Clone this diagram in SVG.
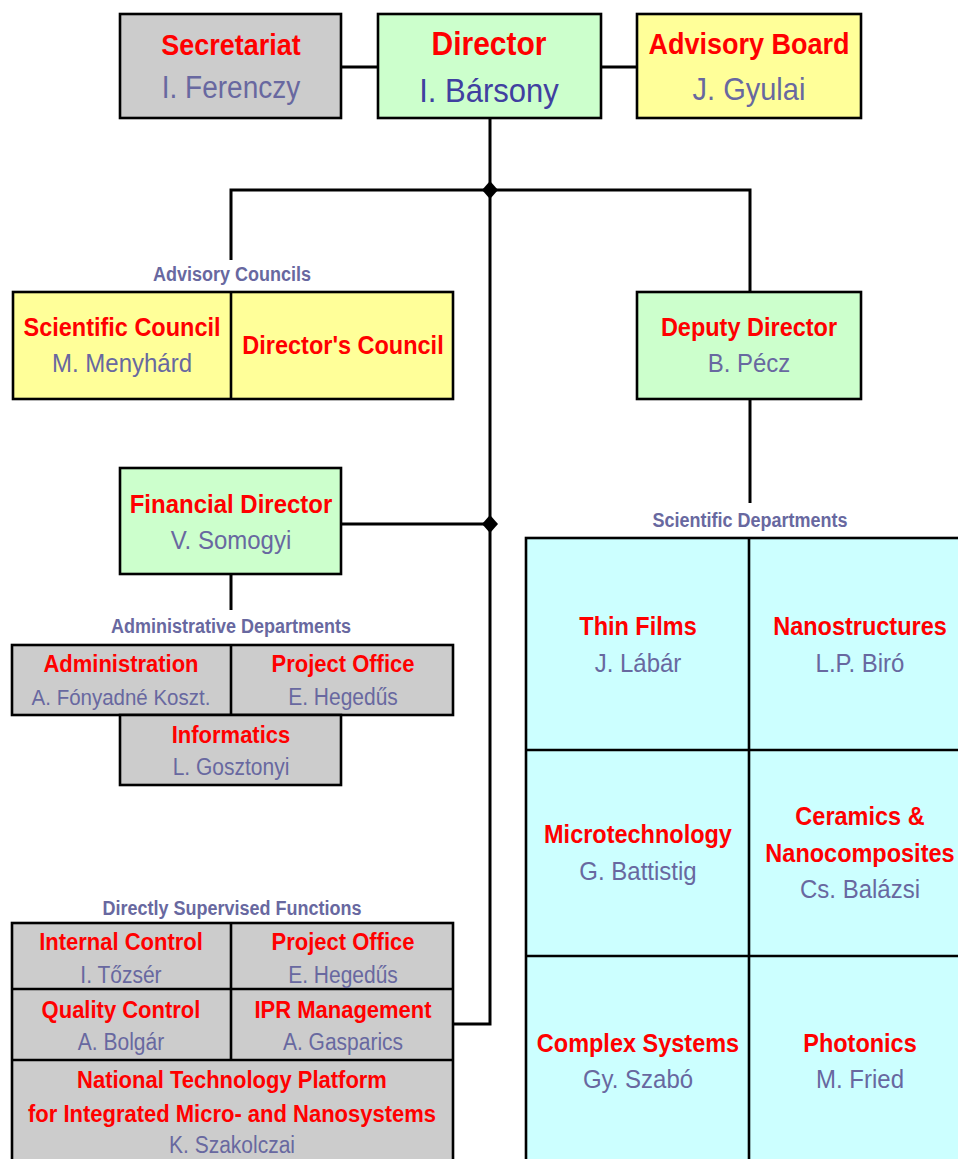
<svg xmlns="http://www.w3.org/2000/svg" width="958" height="1159" viewBox="0 0 958 1159">
<style>
text{font-family:"Liberation Sans",Arial,sans-serif;text-anchor:middle;transform-box:fill-box;transform-origin:50% 80%;transform:scaleY(1.1)}
.t{font-weight:bold;fill:#ff0000}
.n{fill:#6868a0}
.lbl{font-weight:bold;fill:#6868a0;font-size:18px}
.box{stroke:#000;stroke-width:2.6}
.gray{fill:#cccccc}.green{fill:#ccffcc}.yellow{fill:#ffff99}.cyan{fill:#ccffff}
.c{fill:none;stroke:#000;stroke-width:3}
.dot{fill:#000}
</style>
<rect width="958" height="1159" fill="#fff"/>
<g id="connectors">
<line class="c" x1="341" y1="67" x2="378" y2="67"/>
<line class="c" x1="601" y1="67" x2="637" y2="67"/>
<polyline class="c" points="490,118 490,1024 453,1024"/>
<polyline class="c" points="231,260 231,190 750,190 750,292"/>
<line class="c" x1="750" y1="399" x2="750" y2="503"/>
<line class="c" x1="341" y1="524" x2="490" y2="524"/>
<line class="c" x1="231" y1="574" x2="231" y2="610"/>
<polygon class="dot" points="490,181 498,190 490,199 482,190"/>
<polygon class="dot" points="490,515 498,524 490,533 482,524"/>
</g>
<g id="secretariat">
<rect class="box gray" x="120" y="14" width="221" height="104"/>
<text class="t" x="231" y="55" font-size="27">Secretariat</text>
<text class="n" x="231" y="98" font-size="28">I. Ferenczy</text>
</g>
<g id="director">
<rect class="box green" x="378" y="14" width="223" height="104"/>
<text class="t" x="489" y="55" font-size="30">Director</text>
<text x="489" y="102" font-size="31" fill="#4040a0">I. Bársony</text>
</g>
<g id="advisory-board">
<rect class="box yellow" x="637" y="14" width="224" height="104"/>
<text class="t" x="749" y="54" font-size="27">Advisory Board</text>
<text class="n" x="749" y="100" font-size="29">J. Gyulai</text>
</g>
<g id="advisory-councils">
<text class="lbl" x="232" y="281">Advisory Councils</text>
<rect class="box yellow" x="13" y="292" width="440" height="107"/>
<line class="box" x1="231" y1="292" x2="231" y2="399"/>
<text class="t" x="122" y="336" font-size="23.5">Scientific Council</text>
<text class="n" x="122" y="372" font-size="24">M. Menyhárd</text>
<text class="t" x="343" y="354" font-size="23.5">Director's Council</text>
</g>
<g id="deputy-director">
<rect class="box green" x="637" y="292" width="224" height="107"/>
<text class="t" x="749" y="336" font-size="23.5">Deputy Director</text>
<text class="n" x="749" y="372" font-size="24">B. Pécz</text>
</g>
<g id="financial-director">
<rect class="box green" x="120" y="468" width="221" height="106"/>
<text class="t" x="231" y="513" font-size="24">Financial Director</text>
<text class="n" x="231" y="549" font-size="24">V. Somogyi</text>
</g>
<g id="administrative-departments">
<text class="lbl" x="231" y="633">Administrative Departments</text>
<rect class="box gray" x="12" y="645" width="441" height="70"/>
<line class="box" x1="231" y1="645" x2="231" y2="715"/>
<text class="t" x="121" y="672" font-size="22">Administration</text>
<text class="n" x="121" y="705" font-size="20.5">A. Fónyadné Koszt.</text>
<text class="t" x="343" y="672" font-size="22">Project Office</text>
<text class="n" x="343" y="705" font-size="21">E. Hegedűs</text>
<rect class="box gray" x="120" y="715" width="221" height="70"/>
<text class="t" x="231" y="743" font-size="22">Informatics</text>
<text class="n" x="231" y="775" font-size="21">L. Gosztonyi</text>
</g>
<g id="directly-supervised">
<text class="lbl" x="232" y="915">Directly Supervised Functions</text>
<rect class="box gray" x="12" y="923" width="441" height="250"/>
<line class="box" x1="231" y1="923" x2="231" y2="1060"/>
<line class="box" x1="12" y1="989" x2="453" y2="989"/>
<line class="box" x1="12" y1="1060" x2="453" y2="1060"/>
<text class="t" x="121" y="950" font-size="22">Internal Control</text>
<text class="n" x="121" y="983" font-size="21">I. Tőzsér</text>
<text class="t" x="343" y="950" font-size="22">Project Office</text>
<text class="n" x="343" y="983" font-size="21">E. Hegedűs</text>
<text class="t" x="121" y="1018" font-size="22">Quality Control</text>
<text class="n" x="121" y="1050" font-size="21">A. Bolgár</text>
<text class="t" x="343" y="1018" font-size="22">IPR Management</text>
<text class="n" x="343" y="1050" font-size="21">A. Gasparics</text>
<text class="t" x="232" y="1088" font-size="22">National Technology Platform</text>
<text class="t" x="232" y="1122" font-size="22">for Integrated Micro- and Nanosystems</text>
<text class="n" x="232" y="1153" font-size="21">K. Szakolczai</text>
</g>
<g id="scientific-departments">
<text class="lbl" x="750" y="527">Scientific Departments</text>
<rect class="box cyan" x="526" y="538" width="450" height="640"/>
<line class="box" x1="749" y1="538" x2="749" y2="1178"/>
<line class="box" x1="526" y1="750" x2="976" y2="750"/>
<line class="box" x1="526" y1="956" x2="976" y2="956"/>
<text class="t" x="638" y="635" font-size="23.5">Thin Films</text>
<text class="n" x="638" y="672" font-size="24">J. Lábár</text>
<text class="t" x="860" y="635" font-size="23.5">Nanostructures</text>
<text class="n" x="860" y="672" font-size="24">L.P. Biró</text>
<text class="t" x="638" y="843" font-size="23.5">Microtechnology</text>
<text class="n" x="638" y="880" font-size="24">G. Battistig</text>
<text class="t" x="860" y="825" font-size="23.5">Ceramics &amp;</text>
<text class="t" x="860" y="862" font-size="23.5">Nanocomposites</text>
<text class="n" x="860" y="898" font-size="24">Cs. Balázsi</text>
<text class="t" x="638" y="1052" font-size="23.5">Complex Systems</text>
<text class="n" x="638" y="1088" font-size="24">Gy. Szabó</text>
<text class="t" x="860" y="1052" font-size="23.5">Photonics</text>
<text class="n" x="860" y="1088" font-size="24">M. Fried</text>
</g>
</svg>
